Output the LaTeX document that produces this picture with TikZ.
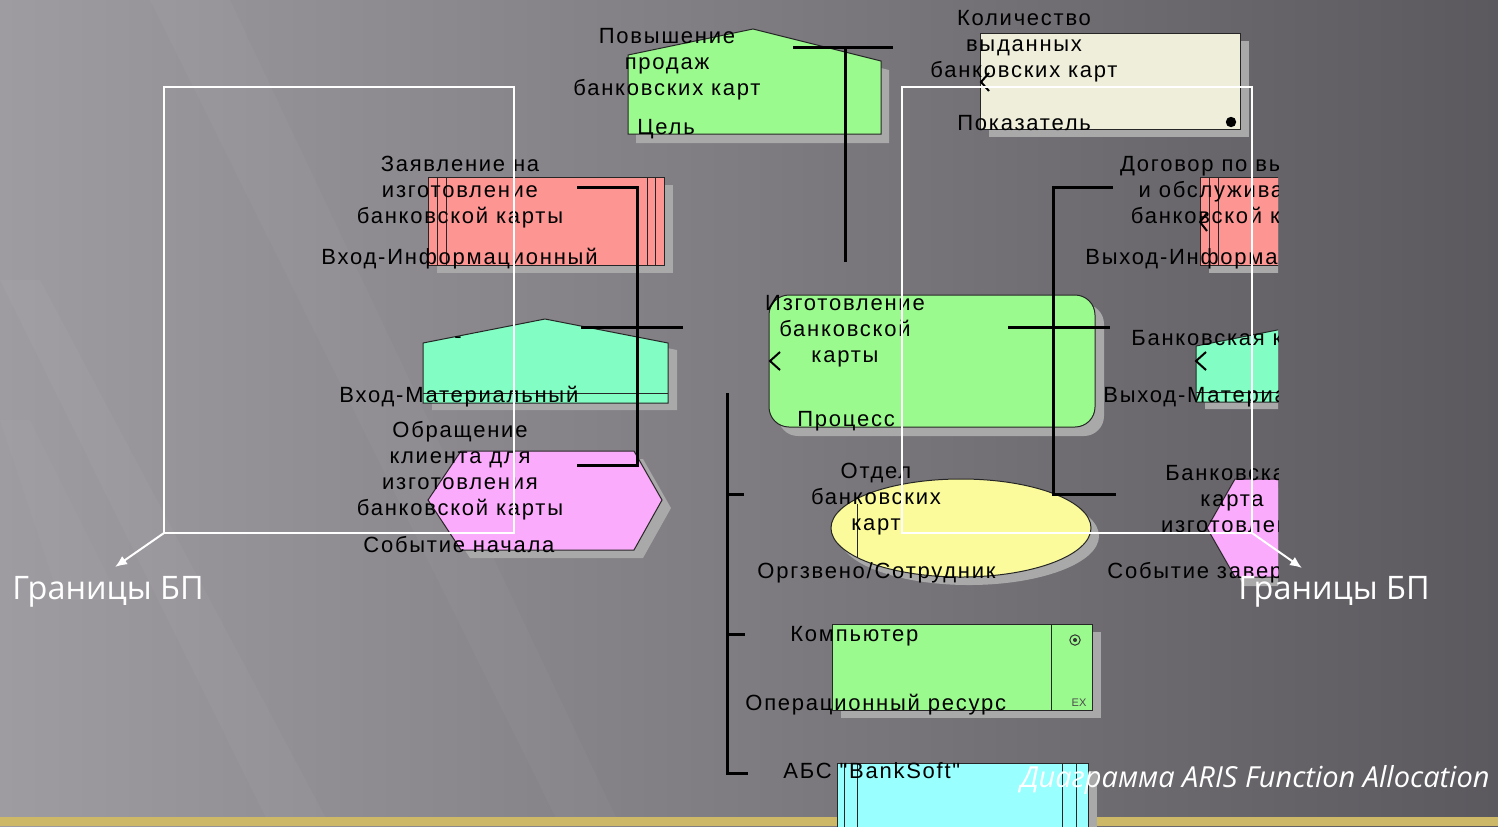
\documentclass[tikz,border=0pt]{standalone}
\usepackage{fontspec}
\setmainfont{Liberation Sans}
\newfontfamily\arisfont[LetterSpace=8]{Liberation Sans}
\newfontfamily\titlefont{Open Sans}
\usetikzlibrary{arrows.meta}
\definecolor{bgL}{HTML}{9E9BA1}
\definecolor{bgM}{HTML}{7E7B81}
\definecolor{bgR}{HTML}{5B595E}
\definecolor{goldstrip}{HTML}{CDB868}
\definecolor{shadowgray}{HTML}{A9A9A9}
\definecolor{goalgreen}{HTML}{9AFA8E}
\definecolor{mint}{HTML}{82FDC3}
\definecolor{infopink}{HTML}{FD9593}
\definecolor{eventpink}{HTML}{FBABFB}
\definecolor{orgyellow}{HTML}{FBFB9B}
\definecolor{beige}{HTML}{EFEEDB}
\definecolor{appcyan}{HTML}{99FFFF}
\tikzset{
  shd/.style={fill=shadowgray, draw=none},
  obj/.style={draw=black!85, line width=0.5pt},
  conn/.style={draw=black, line width=1.5pt},
  bnd/.style={draw=white, line width=1pt},
  lbl/.style={font=\arisfont\fontsize{11}{13}\selectfont, align=center, inner sep=0pt, text=black},
  tag/.style={lbl, anchor=west},
  chev/.style={draw=black, line width=1pt},
  bptext/.style={font=\titlefont\fontsize{16.2}{19}\selectfont, text=white, inner sep=0pt, anchor=west}
}
\begin{document}
\begin{tikzpicture}[x=0.5pt,y=-0.5pt]
\useasboundingbox (0,0) rectangle (1498,826);
% background
\shade[left color=bgL, right color=bgR, middle color=bgM] (0,0) rectangle (1498,826);
\fill[white, opacity=0.035] (0,280) -- (40,280) -- (330,826) -- (270,826) -- cycle;
\fill[white, opacity=0.03] (150,0) -- (230,0) -- (620,826) -- (560,826) -- cycle;
\fill[white, opacity=0.025] (0,420) -- (30,420) -- (120,600) -- (60,600) -- cycle;
\fill[goldstrip] (0,817) rectangle (1498,826);

% goal
\fill[shd, shift={(8,9)}] (628,134) -- (628,55) -- (753,29) -- (881,61) -- (881,134) -- cycle;
\filldraw[obj, fill=goalgreen] (628,134) -- (628,55) -- (753,29) -- (881,61) -- (881,134) -- cycle;
% indicator
\fill[shd] (989,41) rectangle (1249,137);
\filldraw[obj, fill=beige] (980,33) rectangle (1240,129);
\fill[black] (1231,122) circle[radius=2.6pt];
% input info
\fill[shd] (437,185) rectangle (673,273);
\filldraw[obj, fill=infopink] (428,177) rectangle (664,265);
\foreach \xx in {437,446,647,655} \draw[obj] (\xx,177) -- (\xx,265);
% input material
\fill[shd, shift={(9,7)}] (423,403) -- (423,343) -- (545,319) -- (668,343) -- (668,403) -- cycle;
\filldraw[obj, fill=mint] (423,403) -- (423,343) -- (545,319) -- (668,343) -- (668,403) -- cycle;
\draw[obj] (423,393) -- (668,393);
% start event
\fill[shd, shift={(9,8)}] (428,500) -- (461,451) -- (634,451) -- (662,500) -- (634,550) -- (461,550) -- cycle;
\filldraw[obj, fill=eventpink] (428,500) -- (461,451) -- (634,451) -- (662,500) -- (634,550) -- (461,550) -- cycle;
% process
\fill[shd, rounded corners=10pt] (778,304) rectangle (1104,436);
\filldraw[obj, fill=goalgreen, rounded corners=10pt] (769,295) rectangle (1095,427);
% org unit
\fill[shd] (969,536) ellipse[x radius=65pt, y radius=24.5pt];
\filldraw[obj, fill=orgyellow] (961,528) ellipse[x radius=65pt, y radius=24.5pt];
\draw[obj] (857,504) -- (857,557);
% operational resource
\fill[shd] (841,632) rectangle (1101,718);
\filldraw[obj, fill=goalgreen] (832,624) rectangle (1092,710);
\draw[obj] (1051,624) -- (1051,710);
\draw[black!80, line width=0.5pt] (1075,640) circle[radius=2.6pt];
\fill[black!80] (1075,640) circle[radius=1pt];
\node[inner sep=0pt, text=black!70, font=\fontsize{5.5}{6}\selectfont] (exmark) at (1079,703) {EX};
% application system
\fill[shd] (846,771) rectangle (1097,830);
\filldraw[obj, fill=appcyan] (837,763) rectangle (1088,830);
\foreach \xx in {844,857,1062,1076} \draw[obj] (\xx,763) -- (\xx,830);

% right side (clipped)
\begin{scope}
\clip (1040,100) rectangle (1278,620);
\fill[shd] (1209,185) rectangle (1330,273);
\filldraw[obj, fill=infopink] (1200,177) rectangle (1330,265);
\foreach \xx in {1209,1218} \draw[obj] (\xx,177) -- (\xx,265);
\fill[shd, shift={(9,7)}] (1196,402) -- (1196,346) -- (1318,322) -- (1440,346) -- (1440,402) -- cycle;
\filldraw[obj, fill=mint] (1196,402) -- (1196,346) -- (1318,322) -- (1440,346) -- (1440,402) -- cycle;
\draw[obj] (1196,392) -- (1330,392);
\fill[shd, shift={(9,9)}] (1207,528) -- (1235,479) -- (1400,479) -- (1400,577) -- (1235,577) -- cycle;
\filldraw[obj, fill=eventpink] (1207,528) -- (1235,479) -- (1400,479) -- (1400,577) -- (1235,577) -- cycle;
\node[lbl] (outinfo) at (1234,192) {Договор по выпуску\\и обслуживанию\\банковской карты};
\node[tag] (outinfotype) at (1085,259) {Выход-Информационный};
\node[tag] (outmat) at (1131,340) {Банковская карта};
\node[tag] (outmattype) at (1103,397) {Выход-Материальный};
\node[lbl] (endev) at (1232,499) {Банковская\\карта\\изготовлена};
\node[tag] (endevtype) at (1107,573) {Событие завершения};
\end{scope}

% chevrons
\draw[chev] (989,73) -- (981,82) -- (989,91);
\draw[chev] (780,352) -- (770,361) -- (780,370);
\draw[chev] (1207,213) -- (1200,222) -- (1207,231);
\draw[chev] (1206,352) -- (1196,361) -- (1206,370);

% connectors
\coordinate (g1) at (793,47); \coordinate (g2) at (893,47);
\coordinate (gt) at (845,47); \coordinate (gb) at (845,262);
\draw[conn] (g1) -- (g2);
\draw[conn] (gt) -- (gb);
\coordinate (i1) at (577,187); \coordinate (i2) at (637,187);
\coordinate (i3) at (637,465); \coordinate (i4) at (577,465);
\draw[conn] (i1) -- (i2) -- (i3) -- (i4);
\coordinate (m1) at (581,327); \coordinate (m2) at (683,327);
\draw[conn] (m1) -- (m2);
\coordinate (p1) at (1008,327); \coordinate (p2) at (1110,327);
\draw[conn] (p1) -- (p2);
\coordinate (o1) at (1113,187); \coordinate (o2) at (1053,187);
\coordinate (o3) at (1053,494); \coordinate (o4) at (1116,494);
\draw[conn] (o1) -- (o2) -- (o3) -- (o4);
\coordinate (r1) at (727,393); \coordinate (r2) at (727,773); \coordinate (r3) at (748,773);
\coordinate (r4) at (727,494); \coordinate (r5) at (744,494);
\coordinate (r6) at (727,634); \coordinate (r7) at (745,634);
\draw[conn] (r1) -- (r2) -- (r3);
\draw[conn] (r4) -- (r5);
\draw[conn] (r6) -- (r7);

% labels
\node[lbl] (goal) at (667,64) {Повышение\\продаж\\банковских карт};
\node[tag] (goaltype) at (637,129) {Цель};
\node[lbl] (kpi) at (1024,46) {Количество\\выданных\\банковских карт};
\node[tag] (kpitype) at (957,123) {Показатель};
\node[lbl] (ininfo) at (460,192) {Заявление на\\изготовление\\банковской карты};
\node[tag] (ininfotype) at (321,259) {Вход-Информационный};
\node[lbl] (inmat) at (458,340) {-};
\node[tag] (inmattype) at (339,397) {Вход-Материальный};
\node[lbl] (startev) at (460,471) {Обращение\\клиента для\\изготовления\\банковской карты};
\node[tag] (startevtype) at (363,545) {Событие начала};
\node[lbl] (proc) at (845,331) {Изготовление\\банковской\\карты};
\node[tag] (proctype) at (797,421) {Процесс};
\node[lbl] (org) at (876,499) {Отдел\\банковских\\карт};
\node[tag] (orgtype) at (757,573) {Оргзвено/Сотрудник};
\node[tag] (res) at (790,636) {Компьютер};
\node[tag] (restype) at (745,705) {Операционный ресурс};
\node[tag] (app) at (783,771) {АБС "BankSoft"};

% process boundaries
\coordinate (lb) at (164,533);
\draw[bnd] (164,87) rectangle (514,533);
\coordinate (la) at (115,567);
\draw[bnd, -{Latex[length=6pt,width=5pt]}] (lb) -- (la);
\coordinate (rb) at (1252,533);
\draw[bnd] (902,87) rectangle (1252,533);
\coordinate (ra) at (1302,568);
\draw[bnd, -{Latex[length=6pt,width=5pt]}] (rb) -- (ra);
\node[bptext] (bpl) at (12,592) {Границы БП};
\node[bptext] (bpr) at (1238,592) {Границы БП};
\node[font=\titlefont\itshape\fontsize{14.5}{16}\selectfont, text=white, inner sep=0pt, anchor=east] (title) at (1490,780) {Диаграмма ARIS Function Allocation};
\end{tikzpicture}
\end{document}
